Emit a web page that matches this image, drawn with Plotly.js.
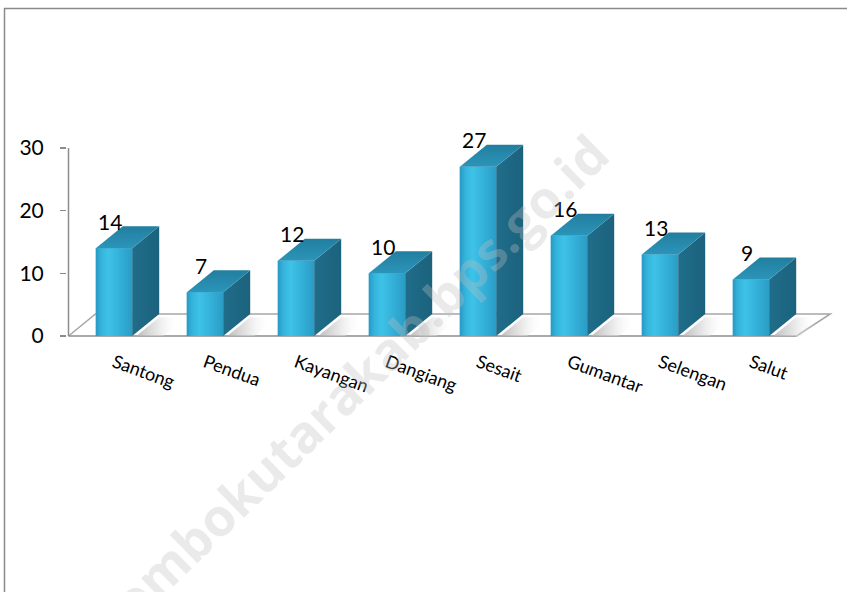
<!DOCTYPE html>
<html><head><meta charset="utf-8">
<script src="https://cdn.plot.ly/plotly-3.0.1.min.js"></script>
<style>html,body{margin:0;padding:0;background:#fff}#chart{width:847px;height:592px}</style>
</head><body><div id="chart"></div>
<script>
// ---- data ----
const categories = ['Santong','Pendua','Kayangan','Dangiang','Sesait','Gumantar','Selengan','Salut'];
const values = [14, 7, 12, 10, 27, 16, 13, 9];
const yTickVals = [0, 10, 20, 30];
const yTickText = ['0', '10', '20', '30'];
const watermarkText = 'lombokutarakab.bps.go.id';

// ---- geometry (pixel frame of the page) ----
const W = 847, H = 592, L = 67, R = 11, T = 138, B = 255;
const pxPerCat = 91, pxPerUnit = 188 / 30;
const xr0 = -0.5 - 1.5 / pxPerCat, xr1 = xr0 + (W - L - R) / pxPerCat;
const yr1 = (336 - T) / pxPerUnit, yr0 = yr1 - (H - T - B) / pxPerUnit;
const DX = 27 / pxPerCat, DY = 22 / pxPerUnit, BW = 0.4, HB = BW / 2;
const pxX = p => (p - L) / (W - L - R);
const pxY = p => (H - B - p) / (H - T - B);
const FONT = 'Lato, Carlito, "Open Sans", sans-serif';

const idx = categories.map((_, i) => i);
const traces = [];

// floor shadows (to the right of each bar)
idx.forEach(i => {
  const x0 = i + HB + DX * 0.15, w = 0.3;
  traces.push({type: 'scatter', mode: 'lines', hoverinfo: 'skip', showlegend: false,
    x: [x0, x0 + w, x0 + w + DX * 0.85, x0 + DX * 0.85, x0],
    y: [0, 0, DY * 0.85, DY * 0.85, 0],
    line: {width: 0}, fill: 'toself',
    fillgradient: {type: 'horizontal', start: x0, stop: x0 + w + DX * 0.6,
      colorscale: [[0, 'rgba(175,175,175,0.85)'], [0.45, 'rgba(215,215,215,0.65)'], [1, 'rgba(255,255,255,0)']]}});
});

// front faces (bars)
traces.push({type: 'bar', x: idx, y: values, width: BW,
  marker: {color: '#33b1da', line: {width: 0}}, hoverinfo: 'skip', showlegend: false});

// gradient overlay on front faces
idx.forEach(i => {
  const v = values[i];
  traces.push({type: 'scatter', mode: 'lines', hoverinfo: 'skip', showlegend: false,
    x: [i - HB, i + HB, i + HB, i - HB, i - HB], y: [0, 0, v, v, 0],
    line: {width: 0}, fill: 'toself',
    fillgradient: {type: 'horizontal', start: i - HB, stop: i + HB,
      colorscale: [[0, '#2898c2'], [0.15, '#34b4dc'], [0.35, '#3fc2e8'], [0.6, '#35b4dc'], [1, '#2a9cc5']]}});
});

// side faces
idx.forEach(i => {
  const v = values[i], x0 = i + HB;
  traces.push({type: 'scatter', mode: 'lines', hoverinfo: 'skip', showlegend: false,
    x: [x0, x0 + DX, x0 + DX, x0, x0], y: [0, DY, v + DY, v, 0],
    line: {width: 0}, fill: 'toself',
    fillgradient: {type: 'horizontal', start: x0, stop: x0 + DX,
      colorscale: [[0, '#206d8a'], [1, '#1b627d']]}});
});

// top faces
idx.forEach(i => {
  const v = values[i];
  traces.push({type: 'scatter', mode: 'lines', hoverinfo: 'skip', showlegend: false,
    x: [i - HB, i + HB, i + HB + DX, i - HB + DX, i - HB], y: [v, v, v + DY, v + DY, v],
    line: {width: 0}, fill: 'toself',
    fillgradient: {type: 'vertical', start: v, stop: v + DY,
      colorscale: [[0, '#2b95ba'], [1, '#227e9f']]}});
});

// value labels
const annotations = idx.map(i => ({
  x: i, y: values[i], xref: 'x', yref: 'y', text: String(values[i]), showarrow: false,
  xshift: -4, yshift: 27, yanchor: 'middle', xanchor: 'center',
  font: {family: FONT, size: 21, color: '#000'}
}));

// watermark
annotations.push({xref: 'paper', yref: 'paper', x: pxX(353), y: pxY(382), text: watermarkText,
  showarrow: false, textangle: -44.3, xanchor: 'center', yanchor: 'middle',
  font: {family: '"Open Sans", sans-serif', size: 52, weight: 700, color: 'rgba(190,190,190,0.33)'}});

const grey = '#8c8c8c';
const shapes = [
  // floor outline
  {type: 'path', xref: 'x', yref: 'y', layer: 'below', line: {color: '#a6a6a6', width: 1.5},
   path: `M -0.5 0 L ${-0.5 + DX} ${DY} L ${7.5 + DX * 1.25} ${DY} L 7.5 0`},
  // front floor edge (x axis)
  {type: 'line', xref: 'x', yref: 'y', layer: 'below', x0: -0.5, x1: 7.5, y0: 0, y1: 0,
   line: {color: grey, width: 1.5}},
  // y axis line
  {type: 'line', xref: 'x', yref: 'y', layer: 'below', x0: -0.5, x1: -0.5, y0: 0, y1: 30,
   line: {color: grey, width: 1.5}},
  // chart frame
  {type: 'path', xref: 'paper', yref: 'paper', line: {color: '#8a8a8a', width: 1.5},
   path: `M ${pxX(4.5)} ${pxY(600)} L ${pxX(4.5)} ${pxY(8.5)} L ${pxX(860)} ${pxY(8.5)}`}
];

const layout = {
  width: W, height: H, margin: {l: L, r: R, t: T, b: B, pad: 0},
  paper_bgcolor: '#fff', plot_bgcolor: 'rgba(0,0,0,0)', showlegend: false,
  xaxis: {type: 'linear', range: [xr0, xr1], tickmode: 'array', tickvals: idx, ticktext: categories,
    tickangle: 20, showgrid: false, zeroline: false, showline: false, ticklabelstandoff: 11,
    ticks: '', tickfont: {family: FONT, size: 18, color: '#000'}, fixedrange: true},
  xaxis2: {overlaying: 'x', range: [xr0, xr1], tickmode: 'array', tickvals: [-0.5,0.5,1.5,2.5,3.5,4.5,5.5,6.5,7.5],
    ticktext: ['','','','','','','','',''], ticks: 'outside', ticklen: 5, tickcolor: grey, tickwidth: 1.5,
    showgrid: false, zeroline: false, showline: false, side: 'bottom', fixedrange: true},
  yaxis: {range: [yr0, yr1], tickmode: 'array', tickvals: yTickVals, ticktext: yTickText,
    ticks: 'outside', ticklen: 6, tickcolor: grey, tickwidth: 1.5, ticklabelstandoff: 12,
    showgrid: false, zeroline: false, showline: false,
    tickfont: {family: FONT, size: 21, color: '#000'}, fixedrange: true},
  shapes, annotations
};

Plotly.newPlot('chart', traces, layout, {staticPlot: true, displayModeBar: false});
</script></body></html>
